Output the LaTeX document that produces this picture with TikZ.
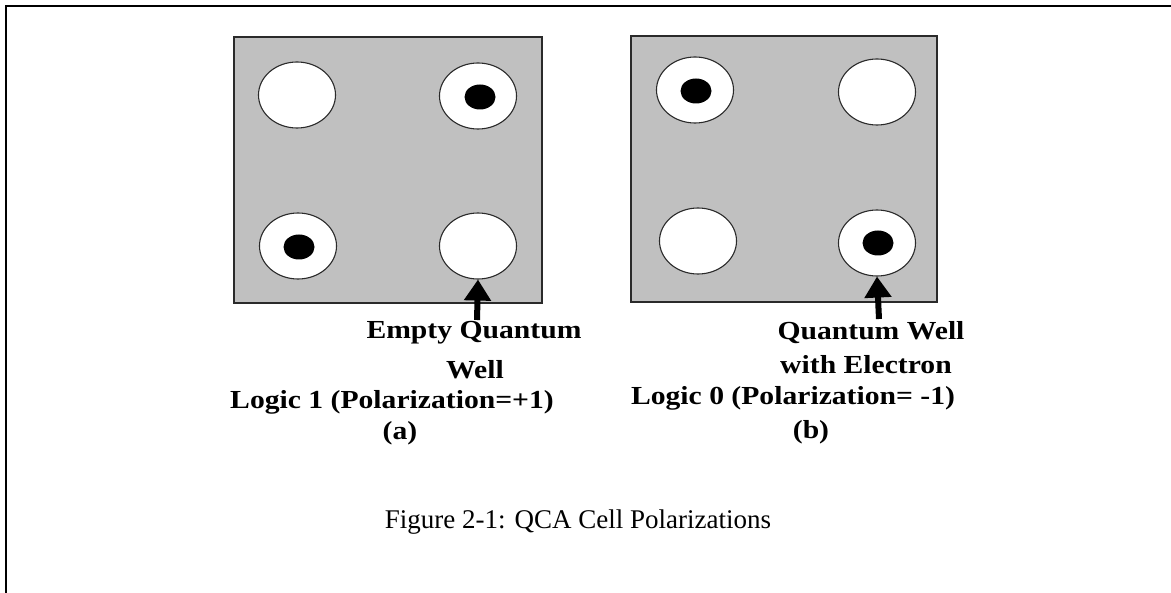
\documentclass[tikz,border=0pt]{standalone}
\usepackage{fontspec}
\setmainfont{Liberation Serif}
\newfontfamily\lblfont[FakeStretch=1.14]{Liberation Serif}
\usetikzlibrary{shapes.geometric,arrows.meta}
\definecolor{cellgray}{HTML}{C0C0C0}
\definecolor{rimgray}{HTML}{2A2A2A}
\tikzset{
  cellbox/.style={draw=rimgray,line width=1.6pt,fill=cellgray},
  well/.style={ellipse,draw=rimgray,line width=1.1pt,fill=white,minimum width=77pt,minimum height=66pt,inner sep=0pt},
  electron/.style={ellipse,fill=black,minimum width=31pt,minimum height=25pt,inner sep=0pt},
  lbl/.style={font=\lblfont\fontsize{26}{30}\selectfont\bfseries,inner sep=0pt,anchor=center},
  captext/.style={font=\fontsize{27}{32}\selectfont,inner sep=0pt,anchor=center},
  pointer/.style={line width=6pt,-{Triangle[width=26pt,length=21pt]}},
  frameline/.style={line width=2.4pt}
}
\begin{document}
\begin{tikzpicture}[x=1pt,y=-1pt]
\useasboundingbox (0,0) rectangle (1171,593);
% outer frame (top and left)
\coordinate (fTR) at (1171,6);
\coordinate (fTL) at (6,6);
\coordinate (fBL) at (6,593);
\draw[frameline] (fTR) -- (fTL) -- (fBL);
% cell (a)
\node[cellbox,minimum width=308pt,minimum height=266pt,inner sep=0pt] (cellA) at (388,170) {};
\node[well] (aTL) at (297,95) {};
\node[well] (aTR) at (478,96) {};
\node[well] (aBL) at (298,246) {};
\node[well] (aBR) at (478,246) {};
\node[electron] (eaTR) at (480,97) {};
\node[electron] (eaBL) at (299,247) {};
% cell (b)
\node[cellbox,minimum width=306pt,minimum height=266pt,inner sep=0pt] (cellB) at (784,169) {};
\node[well] (bTL) at (695,90) {};
\node[well] (bTR) at (877,92) {};
\node[well] (bBL) at (698,241) {};
\node[well] (bBR) at (877,243) {};
\node[electron] (ebTL) at (696,91) {};
\node[electron] (ebBR) at (878,243) {};
% labels (a)
\node[lbl] (emptyA) at (474,333) {Empty Quantum};
\node[lbl] (wellA) at (475,370) {Well};
\node[lbl] (logicA) at (392,402) {Logic 1 (Polarization=+1)};
\node[lbl] (subA) at (400,433) {(a)};
% labels (b)
\node[lbl] (qwB) at (871,333) {Quantum Well};
\node[lbl] (withB) at (866,365) {with Electron};
\node[lbl] (logicB) at (793,398) {Logic 0 (Polarization= -1)};
\node[lbl] (subB) at (811,432) {(b)};
% pointers
\coordinate (pA) at (477,320);
\coordinate (pB) at (879,319);
\draw[pointer] (pA) -- (aBR.south);
\draw[pointer] (pB) -- (bBR.south);
% caption
\node[captext] (caption) at (578,522) {Figure 2-1: QCA Cell Polarizations};
\end{tikzpicture}
\end{document}
